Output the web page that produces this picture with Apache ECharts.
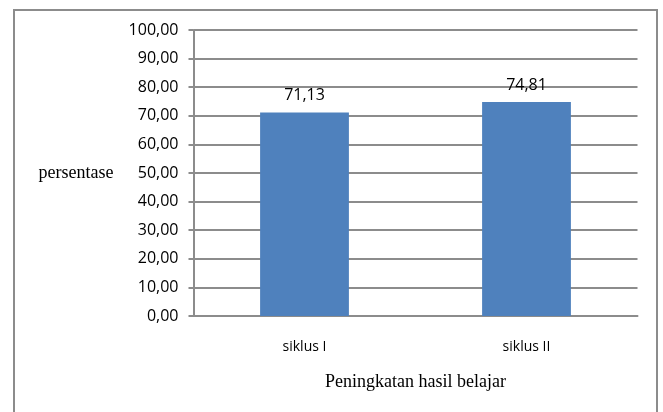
<!DOCTYPE html>
<html><head><meta charset="utf-8">
<script src="https://cdn.jsdelivr.net/npm/echarts@6/dist/echarts.min.js"></script>
<style>html,body{margin:0;padding:0;background:#fff}#c{width:663px;height:412px}</style>
</head><body><div id="c"></div>
<script>
const categories = ['siklus I', 'siklus II'];
const values = [71.13, 74.81];
const yTicks = [0, 10, 20, 30, 40, 50, 60, 70, 80, 90, 100];
const xTitle = 'Peningkatan hasil belajar';
const yTitle = 'persentase';

const fmt = v => v.toFixed(2).replace('.', ',');
const chart = echarts.init(document.getElementById('c'), null, {renderer: 'canvas'});
chart.setOption({
  animation: false,
  graphic: [{type: 'rect', shape: {x: 14, y: 10, width: 643, height: 420}, style: {fill: 'none', stroke: '#8c8c8c', lineWidth: 2}, silent: true}],
  grid: {left: 193.5, right: 25.5, top: 30, bottom: 96},
  xAxis: {
    type: 'category', data: categories,
    name: xTitle, nameLocation: 'middle', nameGap: 57,
    nameTextStyle: {fontFamily: 'Liberation Serif', fontSize: 18, color: '#000', verticalAlign: 'top'},
    axisLine: {lineStyle: {color: '#8c8c8c', width: 2}},
    axisTick: {show: false},
    axisLabel: {fontFamily: 'Open Sans', fontSize: 14, color: '#000', margin: 24}
  },
  yAxis: {
    type: 'value', min: 0, max: 100, interval: 10,
    name: yTitle, nameLocation: 'middle', nameGap: 80, nameRotate: 0,
    nameTextStyle: {fontFamily: 'Liberation Serif', fontSize: 18, color: '#000', align: 'right'},
    axisLine: {show: true, lineStyle: {color: '#8c8c8c', width: 2}},
    axisTick: {show: true, length: 5, inside: false, lineStyle: {color: '#8c8c8c', width: 2}},
    splitLine: {lineStyle: {color: '#8c8c8c', width: 2}},
    axisLabel: {fontFamily: 'Open Sans', fontSize: 16, color: '#000', margin: 15, formatter: v => yTicks.includes(v) ? fmt(v) : ''}
  },
  series: [{
    type: 'bar', data: values, barWidth: '40%',
    itemStyle: {color: '#4f81bd'},
    label: {show: true, position: 'top', distance: 9, fontFamily: 'Open Sans', fontSize: 16, color: '#000', formatter: p => fmt(p.value)}
  }]
});
</script></body></html>
